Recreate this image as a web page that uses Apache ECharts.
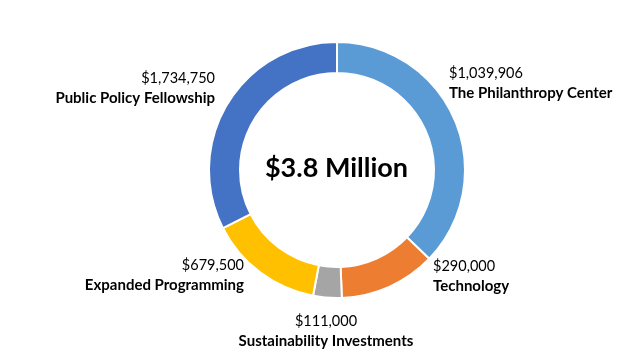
<!DOCTYPE html>
<html>
<head>
<meta charset="utf-8">
<script src="https://cdn.jsdelivr.net/npm/echarts@6/dist/echarts.min.js"></script>
<style>
html,body{margin:0;padding:0;background:#fff;}
#chart{width:642px;height:361px;}
</style>
</head>
<body>
<div id="chart"></div>
<script>
// Data
var categories = ['The Philanthropy Center', 'Technology', 'Sustainability Investments', 'Expanded Programming', 'Public Policy Fellowship'];
var amountLabels = ['$1,039,906', '$290,000', '$111,000', '$679,500', '$1,734,750'];
// Slice sizes as drawn in the picture (percent of the ring)
var sliceShares = [37.2, 12.2, 3.6, 14.5, 32.5];
var centerText = '$3.8 Million';

// Styling / layout
var colors = ['#5B9BD5', '#ED7D31', '#A5A5A5', '#FFC000', '#4472C4'];
var cx = 337, cy = 170;
var labelSpots = [
  {x: cx + 112, y: 83, align: 'left'},
  {x: cx + 96, y: 276, align: 'left'},
  {x: cx - 11, y: 331, align: 'center'},
  {x: cx - 93, y: 275, align: 'right'},
  {x: cx - 122, y: 88, align: 'right'}
];

var chart = echarts.init(document.getElementById('chart'), null, {renderer: 'canvas'});
var data = categories.map(function (c, i) {
  return {name: c, value: sliceShares[i], amount: amountLabels[i], itemStyle: {color: colors[i]}};
});

chart.setOption({
  animation: false,
  backgroundColor: '#ffffff',
  graphic: [{
    type: 'text',
    x: cx - 0.5, y: cy - 2,
    style: {
      text: centerText,
      font: 'bold 27px Lato',
      fill: '#000',
      align: 'center',
      verticalAlign: 'middle'
    }
  }],
  series: [{
    type: 'pie',
    center: [cx, cy],
    radius: [97, 128],
    startAngle: 90,
    clockwise: true,
    avoidLabelOverlap: false,
    itemStyle: {borderColor: '#fff', borderWidth: 2},
    label: {
      show: true,
      position: 'outside',
      formatter: function (p) {
        return '{v|' + p.data.amount + '}\n{c|' + p.name + '}';
      },
      rich: {
        v: {fontFamily: 'Lato', fontSize: 14.5, color: '#000', lineHeight: 20},
        c: {fontFamily: 'Lato', fontSize: 15, fontWeight: 'bold', color: '#000', lineHeight: 20}
      }
    },
    labelLine: {show: false},
    labelLayout: function (p) {
      var s = labelSpots[p.dataIndex];
      return {x: s.x, y: s.y, align: s.align, verticalAlign: 'middle'};
    },
    emphasis: {disabled: true},
    data: data
  }]
});
</script>
</body>
</html>
